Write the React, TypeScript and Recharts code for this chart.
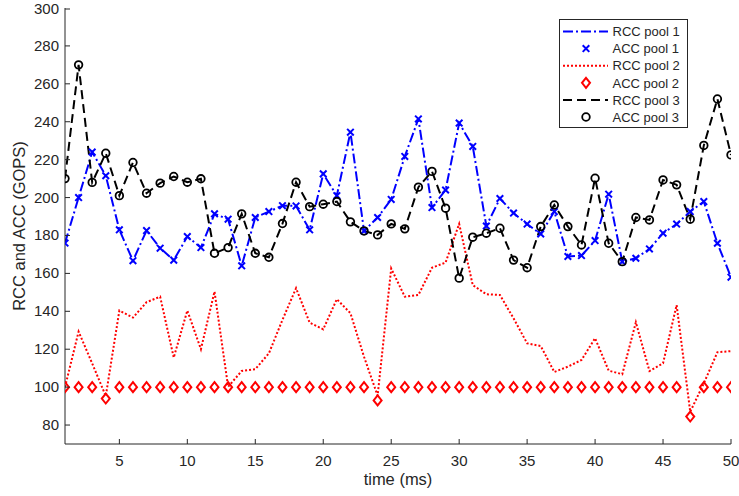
import { LineChart, Line, XAxis, YAxis, Label } from "recharts";

const FONT = '"Liberation Sans", Arial, Helvetica, sans-serif';
const AXIS_COLOR = "#262626";

// time axis (ms)
const timeMs = [
  1, 2, 3, 4, 5, 6, 7, 8, 9, 10, 11, 12, 13, 14, 15, 16, 17, 18, 19, 20, 21, 22, 23, 24, 25,
  26, 27, 28, 29, 30, 31, 32, 33, 34, 35, 36, 37, 38, 39, 40, 41, 42, 43, 44, 45, 46, 47, 48, 49, 50,
];
const xTicks = [5, 10, 15, 20, 25, 30, 35, 40, 45, 50];
const yTicks = [80, 100, 120, 140, 160, 180, 200, 220, 240, 260, 280, 300];

const rccPool1 = [
  176, 200, 224, 211.5, 183, 166.7, 182.6, 173.3, 167, 179.4, 173.6, 191.4, 188.6, 164, 189.5, 192.6,
  195.7, 195.6, 183, 212.5, 201, 234.5, 182.4, 189.5, 199, 221.7, 241.5, 194.7, 204, 239.3, 227, 185,
  199.5, 191.8, 186, 180.8, 192.6, 168.9, 169.4, 177.3, 201.8, 166.2, 168, 172.9, 181.2, 186, 192.6,
  197.9, 175.9, 158,
];
const accPool1 = rccPool1;

const rccPool2 = [
  100, 129.3, 112.5, 95.3, 140.4, 136.7, 144.8, 147.7, 115.6, 140.4, 120, 150.4, 100.2, 108.5, 109.5,
  117.8, 135.5, 152.2, 134, 130.5, 146.4, 139, 116, 95.5, 162.6, 147.7, 148.6, 163, 165.7, 186.1, 153.8,
  149, 148.6, 136.3, 123.1, 121.7, 108, 110.8, 114.3, 125.8, 108.7, 106.8, 134.2, 108.5, 112.6, 143.3,
  87, 102, 118.4, 119,
];
const accPool2 = [
  100, 100, 100, 94, 100, 100, 100, 100, 100, 100, 100, 100, 100, 100, 100, 100, 100, 100, 100, 100,
  100, 100, 100, 93, 100, 100, 100, 100, 100, 100, 100, 100, 100, 100, 100, 100, 100, 100, 100, 100,
  100, 100, 100, 100, 100, 100, 84.5, 100, 100, 100,
];

const rccPool3 = [
  210, 270, 208, 223.4, 201, 218.5, 202.3, 207.6, 211.1, 208.1, 209.9, 170.6, 173.6, 191.4, 170.6,
  168.5, 186.3, 208.1, 195.2, 196.5, 197.9, 187.2, 182.4, 180.3, 186.1, 183.5, 205.5, 213.8, 194.4,
  157.5, 179.1, 181.2, 183.8, 167, 163, 184.7, 196.1, 184.7, 175, 210.2, 175.9, 166.2, 189.5, 188.2,
  209.3, 206.7, 188.6, 227.5, 252, 222.5,
];
const accPool3 = rccPool3;

const data = timeMs.map((t, i) => ({
  t,
  rcc1: rccPool1[i],
  acc1: accPool1[i],
  rcc2: rccPool2[i],
  acc2: accPool2[i],
  rcc3: rccPool3[i],
  acc3: accPool3[i],
}));

const BLUE = "#0000ff";
const RED = "#ff0000";
const BLACK = "#000000";

const CrossMark = (props: any) => {
  const { cx, cy, index } = props;
  if (cx == null || cy == null) return null;
  const s = 3.3;
  return (
    <path
      key={`x-${index}`}
      d={`M${cx - s},${cy - s}L${cx + s},${cy + s}M${cx - s},${cy + s}L${cx + s},${cy - s}`}
      stroke={BLUE}
      strokeWidth={2}
      fill="none"
    />
  );
};

const DiamondMark = (props: any) => {
  const { cx, cy, index } = props;
  if (cx == null || cy == null) return null;
  return (
    <path
      key={`d-${index}`}
      d={`M${cx},${cy - 5}L${cx + 4},${cy}L${cx},${cy + 5}L${cx - 4},${cy}Z`}
      stroke={RED}
      strokeWidth={2}
      fill="none"
    />
  );
};

const CircleMark = (props: any) => {
  const { cx, cy, index } = props;
  if (cx == null || cy == null) return null;
  return <circle key={`o-${index}`} cx={cx} cy={cy} r={3.8} stroke={BLACK} strokeWidth={1.8} fill="none" />;
};

const YTick = ({ x, y, payload }: any) => (
  <g>
    <line x1={x + 6} x2={x + 11} y1={y} y2={y} stroke={AXIS_COLOR} strokeWidth={1} />
    <text x={x} y={y} dy={5} textAnchor="end" fontSize={15} fontFamily={FONT} fill={AXIS_COLOR}>
      {payload.value}
    </text>
  </g>
);

const XTick = ({ x, y, payload }: any) => (
  <g>
    <line x1={x} x2={x} y1={y - 6} y2={y - 11} stroke={AXIS_COLOR} strokeWidth={1} />
    <text x={x} y={y} dy={16} textAnchor="middle" fontSize={15} fontFamily={FONT} fill={AXIS_COLOR}>
      {payload.value}
    </text>
  </g>
);

const legendItems = [
  { name: "RCC pool 1", kind: "line", color: BLUE, dash: "10 3 2 3" },
  { name: "ACC pool 1", kind: "x", color: BLUE },
  { name: "RCC pool 2", kind: "line", color: RED, dash: "2 2" },
  { name: "ACC pool 2", kind: "diamond", color: RED },
  { name: "RCC pool 3", kind: "line", color: BLACK, dash: "9 5" },
  { name: "ACC pool 3", kind: "circle", color: BLACK },
];

function ChartLegend() {
  return (
    <svg
      width={130}
      height={110}
      style={{ position: "absolute", left: 559, top: 19 }}
    >
      <rect x={0.5} y={0.5} width={128} height={108} fill="#ffffff" stroke={AXIS_COLOR} strokeWidth={1} />
      {legendItems.map((item, i) => {
        const cy = 12.5 + i * 17.1;
        const cx = 27;
        let sample = null;
        if (item.kind === "line") {
          sample = (
            <line x1={4} x2={49} y1={cy} y2={cy} stroke={item.color} strokeWidth={2} strokeDasharray={item.dash} />
          );
        } else if (item.kind === "x") {
          sample = <CrossMark cx={cx} cy={cy} index={i} />;
        } else if (item.kind === "diamond") {
          sample = <DiamondMark cx={cx} cy={cy} index={i} />;
        } else {
          sample = <CircleMark cx={cx} cy={cy} index={i} />;
        }
        return (
          <g key={item.name}>
            {sample}
            <text x={53.5} y={cy} dy={4.7} fontSize={13} fontFamily={FONT} fill={AXIS_COLOR}>
              {item.name}
            </text>
          </g>
        );
      })}
    </svg>
  );
}

export default function App() {
  return (
    <div style={{ position: "absolute", left: 0, top: 0, width: 739, height: 496, background: "#fff" }}>
      <LineChart width={739} height={496} data={data} margin={{ top: 8, right: 8, left: 0, bottom: 0 }}>
        <XAxis
          dataKey="t"
          type="number"
          domain={[1, 50]}
          ticks={xTicks}
          allowDataOverflow
          height={52}
          stroke={AXIS_COLOR}
          tickLine={false}
          tickSize={0}
          tickMargin={6}
          tick={<XTick />}
        >
          <Label
            value="time (ms)"
            position="insideBottom"
            offset={11}
            style={{ fontSize: 16.5, fontFamily: FONT, fill: AXIS_COLOR }}
          />
        </XAxis>
        <YAxis
          type="number"
          domain={[70, 300]}
          ticks={yTicks}
          allowDataOverflow
          width={65}
          stroke={AXIS_COLOR}
          tickLine={false}
          tickSize={0}
          tickMargin={6}
          tick={<YTick />}
        >
          <Label
            value="RCC and ACC (GOPS)"
            angle={-90}
            position="insideLeft"
            offset={19.5}
            style={{ fontSize: 16.5, fontFamily: FONT, fill: AXIS_COLOR, textAnchor: "middle" }}
          />
        </YAxis>
        <Line
          dataKey="rcc1"
          stroke={BLUE}
          strokeWidth={2}
          strokeDasharray="10 3 2 3"
          dot={false}
          activeDot={false}
          isAnimationActive={false}
          type="linear"
        />
        <Line
          dataKey="acc1"
          stroke="none"
          dot={CrossMark}
          activeDot={false}
          isAnimationActive={false}
          type="linear"
        />
        <Line
          dataKey="rcc2"
          stroke={RED}
          strokeWidth={2}
          strokeDasharray="2 2"
          dot={false}
          activeDot={false}
          isAnimationActive={false}
          type="linear"
        />
        <Line
          dataKey="acc2"
          stroke="none"
          dot={DiamondMark}
          activeDot={false}
          isAnimationActive={false}
          type="linear"
        />
        <Line
          dataKey="rcc3"
          stroke={BLACK}
          strokeWidth={2}
          strokeDasharray="9 5"
          dot={false}
          activeDot={false}
          isAnimationActive={false}
          type="linear"
        />
        <Line
          dataKey="acc3"
          stroke="none"
          dot={CircleMark}
          activeDot={false}
          isAnimationActive={false}
          type="linear"
        />
      </LineChart>
      <ChartLegend />
    </div>
  );
}
